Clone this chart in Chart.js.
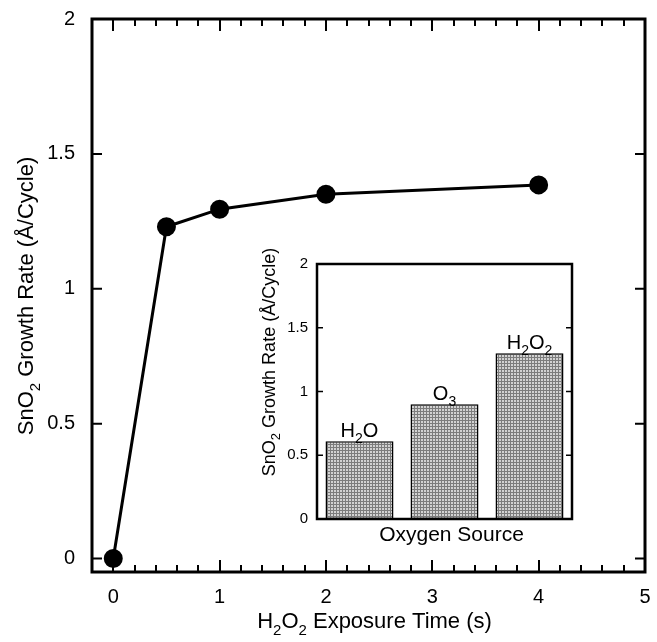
<!DOCTYPE html>
<html>
<head>
<meta charset="utf-8">
<script src="https://cdn.jsdelivr.net/npm/chart.js@4.4.1/dist/chart.umd.min.js"></script>
<style>
  html, body { margin: 0; padding: 0; background: #fff; }
  #wrap { position: relative; width: 657px; height: 642px; }
  #mainChart { position: absolute; left: 0; top: 0; }
  #insetChart { position: absolute; left: 240px; top: 240px; }
</style>
</head>
<body>
<div id="wrap">
  <canvas id="mainChart" width="657" height="642"></canvas>
  <canvas id="insetChart" width="345" height="315"></canvas>
</div>
<script>
// Main plot data
const exposureTimes = [0, 0.5, 1, 2, 4];
const growthRates = [0, 1.23, 1.295, 1.35, 1.385];
const mainXTickLabels = [0, 1, 2, 3, 4, 5];
const mainXMinorStep = 0.2;
const mainYTickLabels = [0, 0.5, 1, 1.5, 2];

// Inset data
const oxygenSources = ['H2O', 'O3', 'H2O2'];
const sourceRates = [0.61, 0.9, 1.3];
const insetYTickLabels = [0, 0.5, 1, 1.5, 2];

const FONT = '"Liberation Sans", Arial, Helvetica, sans-serif';

function fontOf(size) {
    return size + 'px ' + FONT;
}

// Split a chemical-ish string into normal / subscript parts (digits are subscripts)
function splitSub(str) {
    return str.split(/(\d+)/).filter(s => s).map(s => ({ text: s, sub: /^\d+$/.test(s) }));
}

// Draw text with subscripts, centered at x, baseline at y
function drawRich(ctx, str, x, y, size, rotate) {
    const parts = splitSub(str);
    const subSize = Math.round(size * 0.7);
    ctx.save();
    ctx.translate(x, y);
    if (rotate) ctx.rotate(-Math.PI / 2);
    ctx.fillStyle = '#000';
    ctx.textAlign = 'left';
    ctx.textBaseline = 'alphabetic';
    let total = 0;
    parts.forEach(p => {
        ctx.font = fontOf(p.sub ? subSize : size);
        p.w = ctx.measureText(p.text).width;
        total += p.w;
    });
    let cx = -total / 2;
    parts.forEach(p => {
        ctx.font = fontOf(p.sub ? subSize : size);
        ctx.fillText(p.text, cx, p.sub ? size * 0.3 : 0);
        cx += p.w;
    });
    ctx.restore();
}

// Frame box plus inward ticks on all four sides
function frameTicks(opts) {
    return {
        id: 'frameTicks',
        afterDraw(chart) {
            const ctx = chart.ctx;
            const a = chart.chartArea;
            ctx.save();
            ctx.strokeStyle = '#000';
            ctx.fillStyle = '#000';
            ctx.lineWidth = opts.tickWidth;
            if (opts.minorStep) {
                const xs = chart.scales.x;
                const n = Math.round((xs.max - xs.min) / opts.minorStep);
                for (let k = 1; k < n; k++) {
                    const v = Math.round((xs.min + k * opts.minorStep) * 10) / 10;
                    const px = Math.round(xs.getPixelForValue(v));
                    const len = mainXTickLabels.includes(v) ? opts.majorLen : opts.minorLen;
                    ctx.fillRect(px - 1, a.bottom - len, 2, len);
                    ctx.fillRect(px - 1, a.top, 2, len);
                }
            }
            const ys = chart.scales.y;
            ys.ticks.forEach(t => {
                const py = ys.getPixelForValue(t.value);
                if (py <= a.top + 2 || py >= a.bottom - 2) return;
                ctx.beginPath();
                ctx.moveTo(a.left, py);
                ctx.lineTo(a.left + opts.yLen, py);
                ctx.moveTo(a.right, py);
                ctx.lineTo(a.right - opts.yLen, py);
                ctx.stroke();
            });
            ctx.lineWidth = opts.frameWidth;
            ctx.strokeRect(a.left, a.top, a.right - a.left, a.bottom - a.top);
            ctx.restore();
        }
    };
}

// Axis titles for main chart
const mainTitles = {
    id: 'mainTitles',
    afterDraw(chart) {
        const ctx = chart.ctx;
        const a = chart.chartArea;
        drawRich(ctx, 'H2O2 Exposure Time (s)', (a.left + a.right) / 2 + 6, 628, 22, false);
        drawRich(ctx, 'SnO2 Growth Rate (Å/Cycle)', 33, 296, 22, true);
    }
};

// Axis titles and bar labels for inset
const insetTitles = {
    id: 'insetTitles',
    afterDraw(chart) {
        const ctx = chart.ctx;
        const a = chart.chartArea;
        drawRich(ctx, 'Oxygen Source', (a.left + a.right) / 2 + 7, 301, 21, false);
        drawRich(ctx, 'SnO2 Growth Rate (Å/Cycle)', 35, 122, 18, true);
        const meta = chart.getDatasetMeta(0);
        meta.data.forEach((bar, i) => {
            drawRich(ctx, oxygenSources[i], bar.x, bar.y - 4, 20, false);
        });
    }
};

// Fine gray grid texture for the bars
function stipple() {
    const c = document.createElement('canvas');
    c.width = 3;
    c.height = 3;
    const g = c.getContext('2d');
    g.fillStyle = '#d2d2d2';
    g.fillRect(0, 0, 3, 3);
    g.fillStyle = '#7c7c7c';
    g.fillRect(0, 0, 3, 1);
    g.fillRect(0, 0, 1, 3);
    return g.createPattern(c, 'repeat');
}

Chart.defaults.font.family = FONT;
Chart.defaults.color = '#000';

new Chart(document.getElementById('mainChart'), {
    type: 'scatter',
    data: {
        datasets: [{
            data: exposureTimes.map((t, i) => ({ x: t, y: growthRates[i] })),
            showLine: true,
            borderColor: '#000',
            borderWidth: 3,
            pointRadius: 8,
            pointBackgroundColor: '#000',
            pointBorderColor: '#000',
            tension: 0
        }]
    },
    options: {
        responsive: false,
        animation: false,
        devicePixelRatio: 1,
        layout: { padding: { top: 19, right: 12, left: 0, bottom: 0 } },
        plugins: { legend: { display: false }, tooltip: { enabled: false } },
        scales: {
            x: {
                type: 'linear',
                min: -0.2,
                max: 5,
                grid: { display: false, drawTicks: false },
                border: { display: false },
                afterBuildTicks: s => { s.ticks = mainXTickLabels.map(v => ({ value: v })); },
                ticks: {
                    autoSkip: false,
                    maxRotation: 0,
                    padding: 13,
                    font: { size: 20 },
                    callback: v => String(v)
                },
                afterFit: s => { s.height = 70; s.paddingLeft = 0; s.paddingRight = 0; }
            },
            y: {
                min: -0.05,
                max: 2,
                grid: { display: false, drawTicks: false },
                border: { display: false },
                afterBuildTicks: s => { s.ticks = mainYTickLabels.map(v => ({ value: v })); },
                ticks: {
                    padding: 17,
                    font: { size: 20 },
                    callback: v => String(v)
                },
                afterFit: s => { s.width = 92; s.paddingTop = 0; s.paddingBottom = 0; }
            }
        }
    },
    plugins: [frameTicks({ minorStep: mainXMinorStep, majorLen: 12, minorLen: 7, yLen: 10, tickWidth: 2, frameWidth: 3 }), mainTitles]
});

new Chart(document.getElementById('insetChart'), {
    type: 'bar',
    data: {
        labels: oxygenSources,
        datasets: [{
            data: sourceRates,
            backgroundColor: stipple(),
            borderColor: '#000',
            borderWidth: 1.5,
            borderSkipped: false,
            categoryPercentage: 1,
            barPercentage: 0.8
        }]
    },
    options: {
        responsive: false,
        animation: false,
        devicePixelRatio: 1,
        layout: { padding: { top: 24, right: 13, left: 0, bottom: 0 } },
        plugins: { legend: { display: false }, tooltip: { enabled: false } },
        scales: {
            x: {
                grid: { display: false, drawTicks: false },
                border: { display: false },
                ticks: { display: false },
                afterFit: s => { s.height = 36; s.paddingLeft = 0; s.paddingRight = 0; }
            },
            y: {
                min: 0,
                max: 2,
                grid: { display: false, drawTicks: false },
                border: { display: false },
                afterBuildTicks: s => { s.ticks = insetYTickLabels.map(v => ({ value: v })); },
                ticks: {
                    padding: 9,
                    font: { size: 15 },
                    callback: v => String(v)
                },
                afterFit: s => { s.width = 77; s.paddingTop = 0; s.paddingBottom = 0; }
            }
        }
    },
    plugins: [frameTicks({ minorStep: 0, yLen: 6, tickWidth: 1.5, frameWidth: 2.5 }), insetTitles]
});
</script>
</body>
</html>
